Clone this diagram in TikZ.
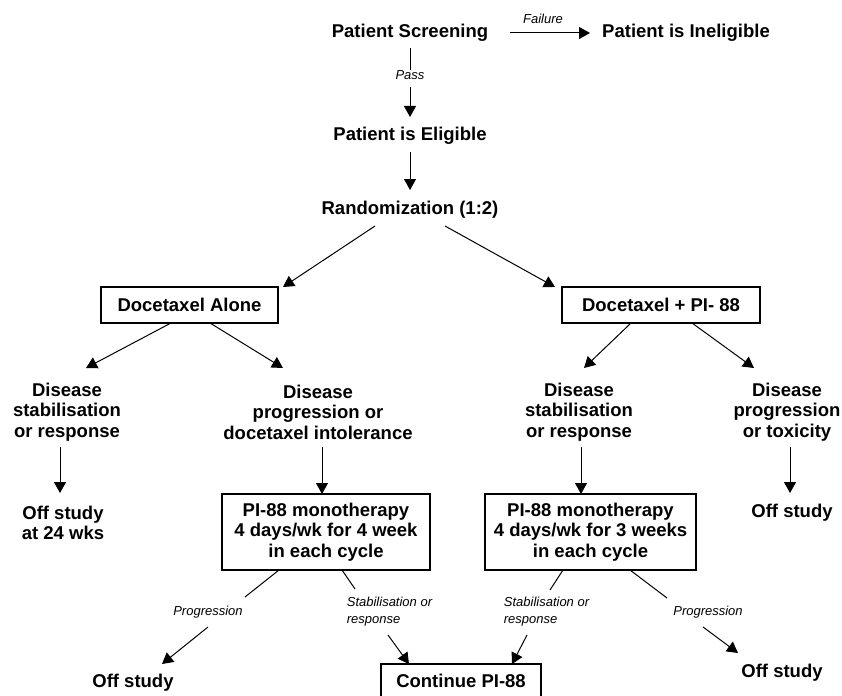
\documentclass[tikz,border=0pt]{standalone}
\usepackage{fontspec}
\setmainfont{Liberation Sans}
\usetikzlibrary{arrows.meta}
\tikzset{
  txt/.style={font=\bfseries\fontsize{18.5}{20.5}\selectfont, align=center, inner sep=0pt},
  lab/.style={font=\itshape\fontsize{13}{17}\selectfont, align=left, inner sep=0pt},
  boxn/.style={txt, draw, line width=1.2pt},
  ln/.style={line width=1pt},
  arr/.style={line width=1pt, -{Triangle[length=11pt,width=12pt]}}
}
\begin{document}
\begin{tikzpicture}[x=1pt,y=-1pt]
\useasboundingbox (0,0) rectangle (842,695);
% top
\node[txt] (ps) at (410,33) {Patient Screening};
\node[txt] (pin) at (686,33) {Patient is Ineligible};
\node[lab] (fail) at (543,19) {Failure};
\draw[arr] ([shift={(100,0)}]ps.center) -- ([shift={(-96,0)}]pin.center);
\node[lab] (pass) at (410,75) {Pass};
\node[txt] (pe) at (410,136) {Patient is Eligible};
\node[txt] (rand) at (410,210) {Randomization (1:2)};
\draw[ln] ([shift={(0,15)}]ps.center) -- ([shift={(0,-5)}]pass.center);
\draw[arr] ([shift={(0,12)}]pass.center) -- ([shift={(0,-19)}]pe.center);
\draw[arr] ([shift={(0,16)}]pe.center) -- ([shift={(0,-20)}]rand.center);
% arms
\node[boxn, minimum width=177pt, minimum height=36pt] (da) at (189.5,305) {Docetaxel Alone};
\node[boxn, minimum width=198pt, minimum height=36pt] (dp) at (661,305) {Docetaxel + PI- 88};
\draw[arr] ([shift={(-35,16)}]rand.center) -- ([shift={(93.5,-18)}]da.center);
\draw[arr] ([shift={(35,16)}]rand.center) -- ([shift={(-106,-18)}]dp.center);
% outcomes
\node[txt] (ds1) at (67,412) {Disease\\stabilisation\\or response};
\node[txt] (dp1) at (318,412) {Disease\\progression or\\docetaxel intolerance};
\node[txt] (ds2) at (579,412) {Disease\\stabilisation\\or response};
\node[txt] (dp2) at (787,412) {Disease\\progression\\or toxicity};
\draw[arr] ([shift={(-18.5,18)}]da.center) -- ([shift={(19,-44)}]ds1.center);
\draw[arr] ([shift={(20.5,18)}]da.center) -- ([shift={(-35,-44)}]dp1.center);
\draw[arr] ([shift={(-30,18)}]dp.center) -- ([shift={(5,-44)}]ds2.center);
\draw[arr] ([shift={(31,18)}]dp.center) -- ([shift={(-33,-44)}]dp2.center);
% next level
\node[txt] (off1) at (63,523) {Off study\\at 24 wks};
\node[boxn, minimum width=208pt, minimum height=76pt] (mono1) at (326,532) {PI-88 monotherapy\\4 days/wk for 4 week\\in each cycle};
\node[boxn, minimum width=211pt, minimum height=76pt] (mono2) at (590.5,532) {PI-88 monotherapy\\4 days/wk for 3 weeks\\in each cycle};
\node[txt] (off2) at (792,513) {Off study};
\draw[arr] ([shift={(-7,35)}]ds1.center) -- ([shift={(-3,-30)}]off1.center);
\draw[arr] ([shift={(4,35)}]dp1.center) -- ([shift={(-4,-38)}]mono1.center);
\draw[arr] ([shift={(2,35)}]ds2.center) -- ([shift={(-9.5,-38)}]mono2.center);
\draw[arr] ([shift={(3,35)}]dp2.center) -- ([shift={(-2,-20)}]off2.center);
% bottom
\node[lab] (prog1) at (208,612) {Progression};
\node[lab] (stab1) at (389.5,611.5) {Stabilisation or\\response};
\node[lab] (stab2) at (546.5,611.5) {Stabilisation or\\response};
\node[lab] (prog2) at (708,612) {Progression};
\node[txt] (off3) at (133,683) {Off study};
\node[txt] (off4) at (782,673) {Off study};
\node[boxn, minimum width=160pt, minimum height=34pt] (cont) at (461,681) {Continue PI-88};
\draw[ln] ([shift={(-47,38)}]mono1.center) -- ([shift={(37,-15)}]prog1.center);
\draw[arr] ([shift={(0,15)}]prog1.center) -- ([shift={(29,-19)}]off3.center);
\draw[ln] ([shift={(16,38)}]mono1.center) -- ([shift={(-34.5,-22.5)}]stab1.center);
\draw[arr] ([shift={(-1.5,23.5)}]stab1.center) -- ([shift={(-52,-17)}]cont.center);
\draw[ln] ([shift={(-27.5,38)}]mono2.center) -- ([shift={(3.5,-21.5)}]stab2.center);
\draw[arr] ([shift={(-19.5,23.5)}]stab2.center) -- ([shift={(51,-17)}]cont.center);
\draw[ln] ([shift={(39.5,38)}]mono2.center) -- ([shift={(-41,-14)}]prog2.center);
\draw[arr] ([shift={(-5,15)}]prog2.center) -- ([shift={(-44,-20)}]off4.center);
\end{tikzpicture}
\end{document}
